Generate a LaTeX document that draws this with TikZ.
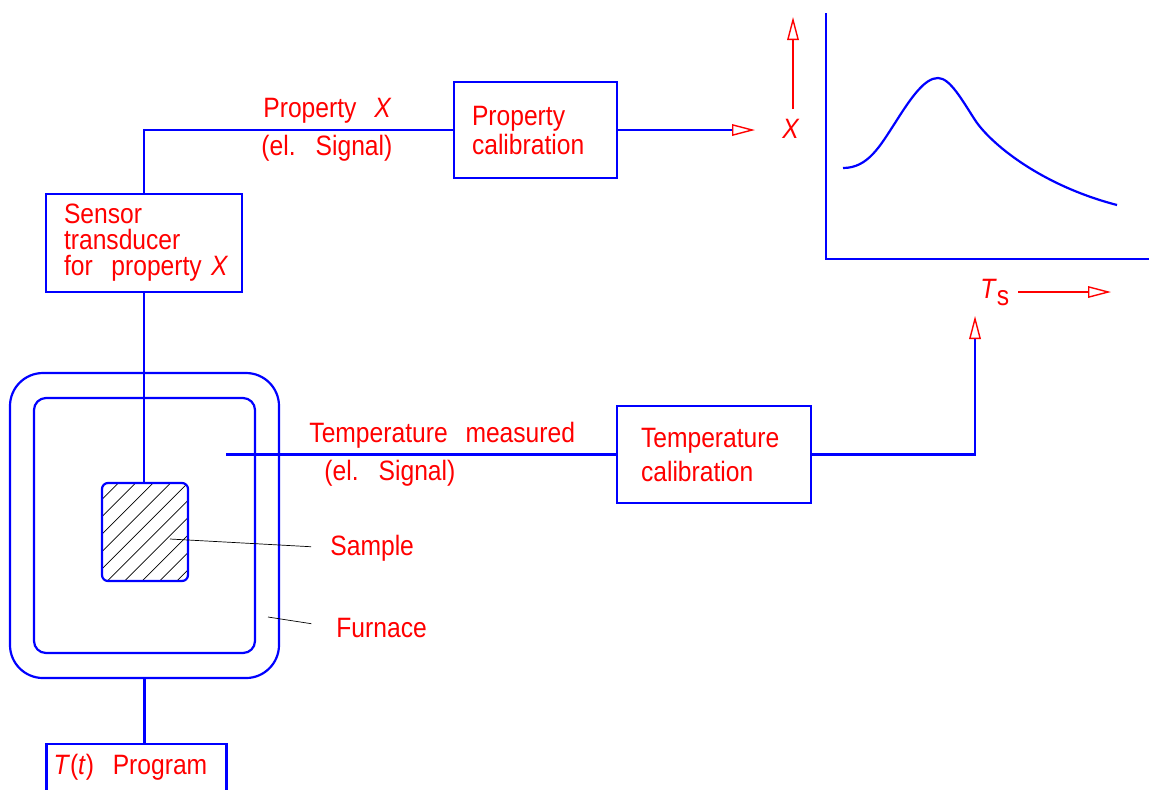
\documentclass[tikz,border=0pt]{standalone}
\usepackage{fontspec}
\setmainfont[FakeStretch=0.88,WordSpace=2.6]{Liberation Sans}
\usepackage{xcolor}
\usepackage{tikz}
\usetikzlibrary{arrows.meta}

\begin{document}
\begin{tikzpicture}[
  x=0.5pt, y=-0.5pt,
  box/.style={draw=blue, line width=1.1pt, text=red, align=left, font=\fontsize{14}{15}\selectfont},
  wall/.style={draw=blue, line width=1.1pt},
  wire/.style={blue, line width=1.1pt},
  arrow/.style={wire, -{Triangle[open, length=11.5pt, width=5.8pt, color=red, line width=0.7pt]}},
  redarrow/.style={red, line width=0.7pt, -{Triangle[open, length=11.5pt, width=5.8pt, line width=0.7pt]}},
  leader/.style={black, line width=0.35pt},
  lbl/.style={text=red, inner sep=0pt, font=\fontsize{14}{15}\selectfont}
]
\useasboundingbox (0,0) rectangle (1149,789);

\node[box, text width=80pt, inner xsep=9pt, minimum height=49pt, font=\fontsize{14}{13}\selectfont] (sensor) at (144,243) {Sensor\\transducer\\\mbox{for~~property~\textit{X}}};
\node[box, text width=63.5pt, inner xsep=9pt, minimum height=48pt, font=\fontsize{14}{14.5}\selectfont] (propcal) at (535.5,130) {Property\\calibration};
\node[box, text width=73pt, inner xsep=12pt, minimum height=48.5pt, font=\fontsize{14}{17}\selectfont] (tempcal) at (714,454.5) {Temperature\\calibration};
\node[box, anchor=north, text width=83pt, inner xsep=3.5pt, inner ysep=5pt, text depth=10pt] (prog) at (136.5,743) {\mbox{\textit{T}(\textit{t})~~Program}};

\node[wall, rounded corners=16.5pt, minimum width=134.5pt, minimum height=152.5pt] (furnace) at (144.5,525.5) {};
\node[wall, rounded corners=6pt, minimum width=110.5pt, minimum height=127.5pt] (chamber) at (144.5,525.5) {};
\node[wall, rounded corners=3pt, minimum width=43pt, minimum height=49pt,
  path picture={\foreach \k in {-6,...,4}
    \draw[leader] ([xshift=\k*8.7pt+2.65pt]path picture bounding box.south west) -- ++(60pt,60pt);}] (sample) at (145,532) {};

\node[lbl, anchor=base west] (propsig) at (263,117) {Property \textit{X}};
\node[lbl, anchor=base west] (propel) at (261,155) {(el. Signal)};
\node[lbl, anchor=base west] (tempsig) at (309,442) {Temperature measured};
\node[lbl, anchor=base west] (tempel) at (324,480) {(el. Signal)};
\node[lbl, anchor=base west] (samplelbl) at (330,555) {Sample};
\node[lbl, anchor=base west] (furnacelbl) at (336,637) {Furnace};
\node[lbl, anchor=base] (xlbl) at (791,138) {\textit{X}};
\node[lbl, anchor=base west] (tslbl) at (980,298) {\textit{T}\raisebox{-3.5pt}{s}};

\coordinate (outX) at (755,130);
\coordinate (tsig) at (226,454.5);
\coordinate (tsIn) at (975,316);
\coordinate (xFrom) at (793,109);
\coordinate (xTo) at (793,17);
\coordinate (tFrom) at (1018,292);
\coordinate (tTo) at (1111,292);
\coordinate (yTop) at (826,13);
\coordinate (xEnd) at (1149,259);
\coordinate (sampleTip) at (170,539);
\coordinate (furnaceTip) at (268,617);

\draw[wire] (sensor.north) |- (propcal.west);
\draw[arrow] (propcal.east) -- (outX);
\draw[wire] (sensor.south) -- (sensor.south |- sample.north);
\draw[wire] (furnace.south) -- (furnace.south |- prog.north);
\draw[wire] (tsig) -- (tempcal.west);
\draw[arrow] (tempcal.east) -| (tsIn);
\draw[redarrow] (xFrom) -- (xTo);
\draw[redarrow] (tFrom) -- (tTo);
\draw[leader, shorten >=9.5pt] (sampleTip) -- (samplelbl.west);
\draw[leader, shorten >=12.5pt] (furnaceTip) -- (furnacelbl.west);

\draw[wire] (yTop) |- (xEnd);
\draw[wire] (843,168) .. controls (868,168) and (880,146) .. (895,123)
  .. controls (912,96) and (925,78) .. (938,78)
  .. controls (950,78) and (962,100) .. (975,120)
  .. controls (990,143) and (1040,185) .. (1117,205);

\end{tikzpicture}
\end{document}
